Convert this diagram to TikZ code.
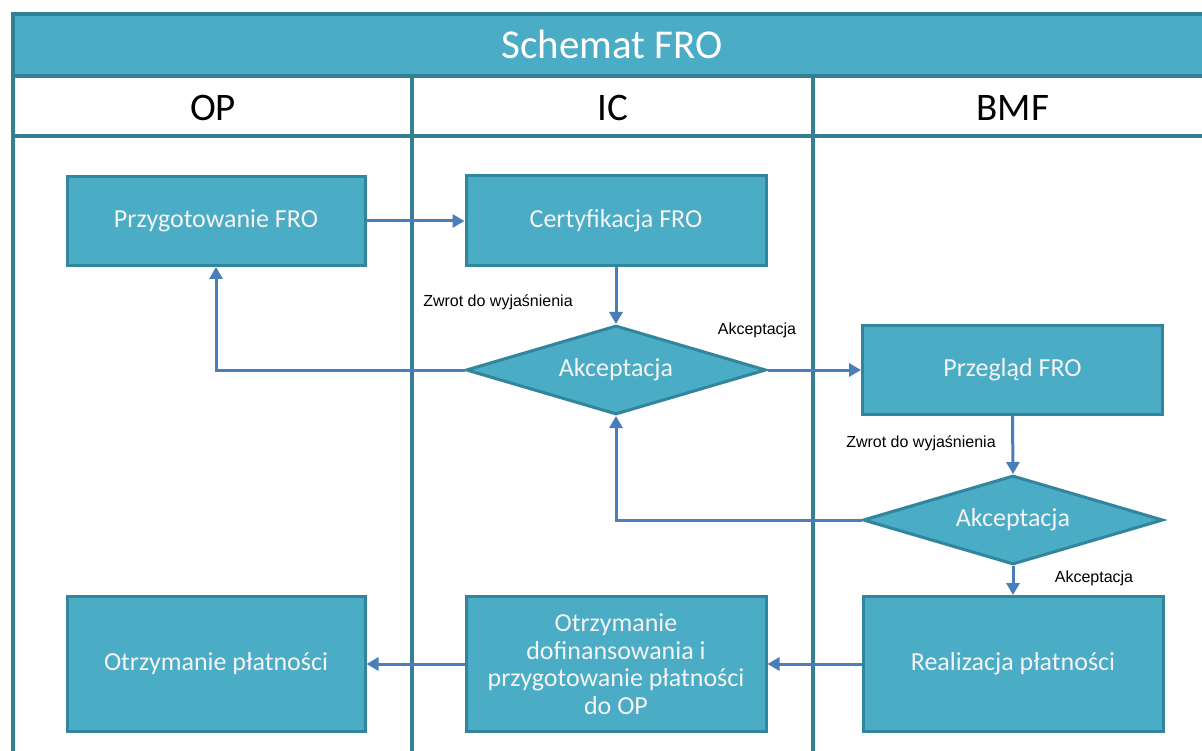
\documentclass[tikz,border=0pt]{standalone}
\usepackage{fontspec}
\setmainfont{Carlito}
\newfontfamily\arialfont{Liberation Sans}
\usetikzlibrary{shapes.geometric,arrows.meta}
\definecolor{boxfill}{HTML}{4BACC6}
\definecolor{boxline}{HTML}{31859C}
\definecolor{frameline}{HTML}{357F96}
\definecolor{arrowcol}{HTML}{4A7EBB}
\definecolor{boxtext}{HTML}{F4F4F4}
\tikzset{
  procbox/.style={draw=boxline, line width=3pt, fill=boxfill, text=boxtext,
    font=\fontsize{26}{27.5}\selectfont, align=center, inner sep=0pt},
  decbox/.style={diamond, draw=boxline, line width=3pt, fill=boxfill, text=boxtext,
    font=\fontsize{26}{27.5}\selectfont, inner sep=0pt, aspect=3.35,
    minimum width=300pt, minimum height=89pt},
  conn/.style={draw=arrowcol, line width=3pt, -{Triangle[length=12pt,width=13pt]}},
  flowlabel/.style={font=\arialfont\fontsize{16}{18}\selectfont, text=black, inner sep=0pt},
  lanehead/.style={font=\fontsize{39}{40}\selectfont, text=black, inner sep=0pt},
  frame/.style={draw=frameline, line width=3.5pt}
}
\begin{document}
\begin{tikzpicture}[x=1pt,y=-1pt]
\useasboundingbox (0,0) rectangle (1202,751);
\clip (0,0) rectangle (1202,751);
\fill[white] (0,0) rectangle (1202,751);
% frame and lanes
\fill[boxfill] (13,14) rectangle (1230,76);
\draw[frame] (13,780) -- (13,14) -- (1230,14);
\draw[frame] (13,76) -- (1230,76);
\draw[frame] (13,136) -- (1230,136);
\draw[frame] (412,76) -- (412,780);
\draw[frame] (813,76) -- (813,780);
\node[font=\fontsize{41}{44}\selectfont, text=white, inner sep=0pt] (title) at (612,44) {Schemat FRO};
\node[lanehead] (hop) at (213,108) {OP};
\node[lanehead] (hic) at (613,108) {IC};
\node[lanehead] (hbmf) at (1013,108) {BMF};
% process nodes
\node[procbox, minimum width=298pt, minimum height=89pt] (przyg) at (216,221) {Przygotowanie FRO};
\node[procbox, minimum width=300pt, minimum height=90pt] (cert) at (616,221) {Certyfikacja FRO};
\node[decbox] (d1) at (616,370) {Akceptacja};
\node[procbox, minimum width=300pt, minimum height=89pt] (przeg) at (1012.5,370) {Przegląd FRO};
\node[decbox] (d2) at (1013,520) {Akceptacja};
\node[procbox, minimum width=300pt, minimum height=135pt] (real) at (1013,664) {Realizacja płatności};
\node[procbox, minimum width=300pt, minimum height=135pt] (otrz) at (616,664) {Otrzymanie\\dofinansowania i\\przygotowanie płatności\\do OP};
\node[procbox, minimum width=298pt, minimum height=135pt] (otrzp) at (216,664) {Otrzymanie płatności};
% connectors
\draw[conn] (przyg.east) -- (cert.west);
\draw[conn] (cert.south) -- (d1.north);
\draw[conn] (d1.west) -| (przyg.south);
\draw[conn] (d1.east) -- (przeg.west);
\draw[conn] (przeg.south) -- (d2.north);
\draw[conn] (d2.west) -| (d1.south);
\draw[conn] (d2.south) -- (real.north);
\draw[conn] (real.west) -- (otrz.east);
\draw[conn] (otrz.west) -- (otrzp.east);
% labels
\node[flowlabel] (l1) at (498,302) {Zwrot do wyjaśnienia};
\node[flowlabel] (l2) at (757,330) {Akceptacja};
\node[flowlabel] (l3) at (921,443) {Zwrot do wyjaśnienia};
\node[flowlabel] (l4) at (1094,578) {Akceptacja};
\end{tikzpicture}
\end{document}
